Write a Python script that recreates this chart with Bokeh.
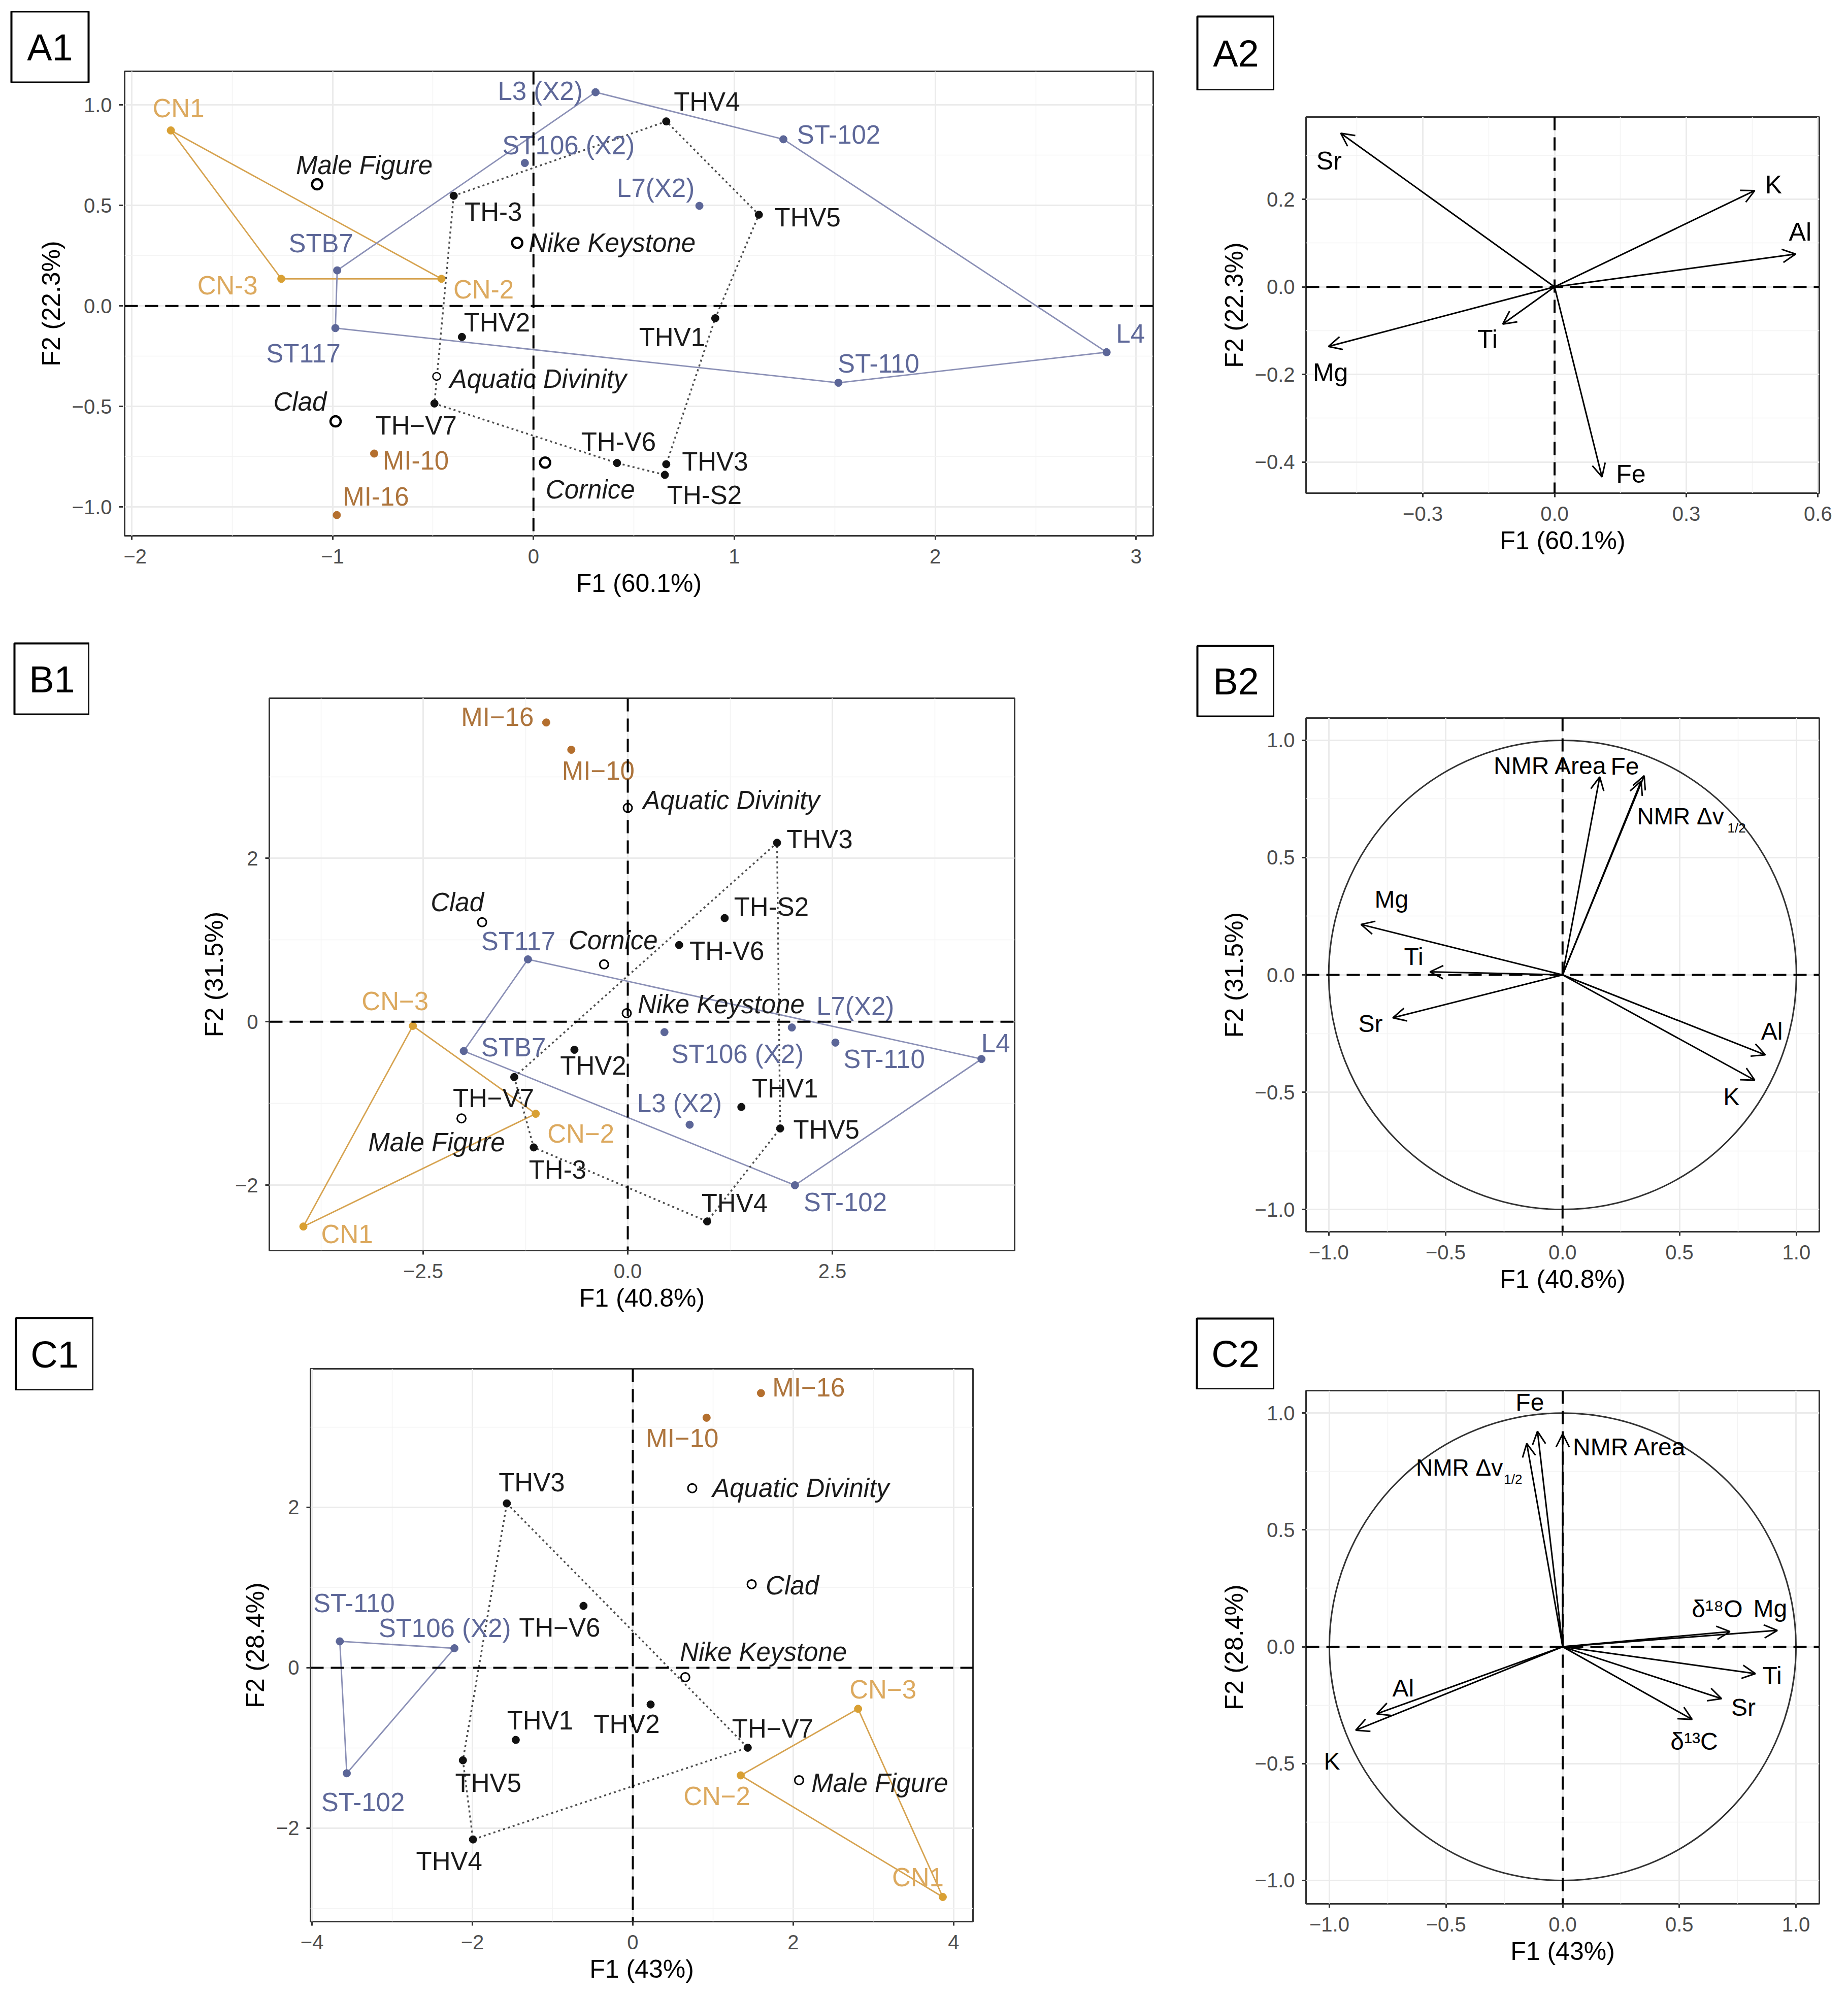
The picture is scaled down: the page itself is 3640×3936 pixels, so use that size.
from bokeh.plotting import figure
from bokeh.models import (ColumnDataSource, Span, FixedTicker, Arrow, OpenHead,
                          Range1d, Spacer)
from bokeh.layouts import row, column
from bokeh.core.properties import value
from bokeh.embed import file_html
from bokeh.resources import INLINE

FONT = "Liberation Sans"
M = "\u2212"

# ------------------------------------------------------------------ data
# Panel A1 (scores)
a1_names = ["CN1", "CN-3", "CN-2", "MI-10", "MI-16",
            "STB7", "ST117", "L3 (X2)", "ST106 (X2)", "L7(X2)", "ST-102", "L4", "ST-110",
            "TH-3", "THV4", "THV5", "THV1", "THV2", "TH" + M + "V7", "TH-V6", "THV3", "TH-S2",
            "Male Figure", "Nike Keystone", "Aquatic Divinity", "Clad", "Cornice"]
a1_x = [-1.805, -1.255, -0.458, -0.793, -0.979,
        -0.977, -0.986, 0.309, -0.043, 0.826, 1.244, 2.853, 1.518,
        -0.397, 0.661, 1.122, 0.905, -0.356, -0.493, 0.416, 0.661, 0.654,
        -1.077, -0.081, -0.482, -0.985, 0.058]
a1_y = [0.873, 0.135, 0.135, -0.734, -1.040,
        0.177, -0.110, 1.063, 0.711, 0.498, 0.829, -0.230, -0.382,
        0.548, 0.918, 0.454, -0.061, -0.154, -0.485, -0.781, -0.787, -0.840,
        0.605, 0.314, -0.350, -0.574, -0.779]
a1_group = ["CN"] * 3 + ["MI"] * 2 + ["ST"] * 8 + ["TH"] * 9 + ["ART"] * 5
a1_hulls = {"CN": ["CN1", "CN-3", "CN-2", "CN1"],
            "ST": ["STB7", "L3 (X2)", "ST-102", "L4", "ST-110", "ST117", "STB7"],
            "TH": ["TH-3", "THV4", "THV5", "THV1", "THV3", "TH-S2", "TH-V6", "TH" + M + "V7", "TH-3"]}

# Panel A2 (loadings)
a2_vars = ["Sr", "K", "Al", "Ti", "Mg", "Fe"]
a2_x = [-0.487, 0.456, 0.549, -0.118, -0.515, 0.108]
a2_y = [0.351, 0.220, 0.075, -0.085, -0.136, -0.434]

# Panel B1 (scores)
b1_names = ["CN1", "CN" + M + "3", "CN" + M + "2", "MI" + M + "16", "MI" + M + "10",
            "STB7", "ST117", "L3 (X2)", "ST106 (X2)", "L7(X2)", "ST-102", "L4", "ST-110",
            "TH-3", "THV4", "THV5", "THV1", "THV2", "TH" + M + "V7", "TH-V6", "THV3", "TH-S2",
            "Male Figure", "Nike Keystone", "Aquatic Divinity", "Clad", "Cornice"]
b1_x = [-3.964, -2.626, -1.125, -0.997, -0.690,
        -2.004, -1.220, 0.756, 0.448, 2.005, 2.043, 4.322, 2.537,
        -1.149, 0.970, 1.862, 1.388, -0.652, -1.387, 0.628, 1.824, 1.184,
        -2.032, -0.013, 0.000, -1.780, -0.290]
b1_y = [-2.506, -0.050, -1.126, 3.663, 3.329,
        -0.358, 0.764, -1.260, -0.127, -0.070, -2.001, -0.456, -0.255,
        -1.538, -2.444, -1.306, -1.043, -0.343, -0.677, 0.939, 2.191, 1.269,
        -1.183, 0.105, 2.618, 1.218, 0.702]
b1_group = ["CN"] * 3 + ["MI"] * 2 + ["ST"] * 8 + ["TH"] * 9 + ["ART"] * 5
b1_hulls = {"CN": ["CN" + M + "3", "CN" + M + "2", "CN1", "CN" + M + "3"],
            "ST": ["ST117", "L4", "ST-102", "STB7", "ST117"],
            "TH": ["TH" + M + "V7", "THV3", "THV5", "THV4", "TH-3", "TH" + M + "V7"]}

# Panel B2 (loadings)
b2_vars = ["NMR Area", "Fe", "NMR \u0394v", "Mg", "Ti", "Sr", "Al", "K"]
b2_x = [0.159, 0.349, 0.336, -0.862, -0.567, -0.726, 0.867, 0.822]
b2_y = [0.844, 0.849, 0.826, 0.215, 0.013, -0.183, -0.341, -0.449]

# Panel C1 (scores)
c1_names = ["CN1", "CN" + M + "3", "CN" + M + "2", "MI" + M + "16", "MI" + M + "10",
            "ST-110", "ST106 (X2)", "ST-102",
            "THV3", "TH" + M + "V6", "THV1", "THV5", "THV4", "THV2", "TH" + M + "V7",
            "Aquatic Divinity", "Clad", "Nike Keystone", "Male Figure"]
c1_x = [3.865, 2.809, 1.346, 1.598, 0.920,
        -3.654, -2.225, -3.567,
        -1.571, -0.615, -1.460, -2.119, -1.993, 0.222, 1.433,
        0.741, 1.482, 0.654, 2.073]
c1_y = [-2.858, -0.512, -1.342, 3.424, 3.117,
        0.329, 0.243, -1.316,
        2.049, 0.771, -0.900, -1.154, -2.141, -0.458, -0.997,
        2.238, 1.041, -0.118, -1.402]
c1_group = ["CN"] * 3 + ["MI"] * 2 + ["ST"] * 3 + ["TH"] * 7 + ["ART"] * 4
c1_hulls = {"CN": ["CN" + M + "3", "CN1", "CN" + M + "2", "CN" + M + "3"],
            "ST": ["ST-110", "ST106 (X2)", "ST-102", "ST-110"],
            "TH": ["THV3", "TH" + M + "V7", "THV4", "THV5", "THV3"]}

# Panel C2 (loadings)
c2_vars = ["Fe", "NMR \u0394v", "NMR Area", "\u03b4\u00b9\u2078O", "Mg", "Ti", "Sr",
           "\u03b4\u00b9\u00b3C", "Al", "K"]
c2_x = [-0.108, -0.154, 0.000, 0.717, 0.920, 0.826, 0.681, 0.555, -0.797, -0.887]
c2_y = [0.922, 0.870, 0.911, 0.065, 0.070, -0.115, -0.222, -0.311, -0.287, -0.357]

# tick values / labels
a1_xticks = [-2, -1, 0, 1, 2, 3]
a1_xlabels = [M + "2", M + "1", "0", "1", "2", "3"]
a1_yticks = [-1.0, -0.5, 0.0, 0.5, 1.0]
a1_ylabels = [M + "1.0", M + "0.5", "0.0", "0.5", "1.0"]
a2_xticks = [-0.3, 0.0, 0.3, 0.6]
a2_xlabels = [M + "0.3", "0.0", "0.3", "0.6"]
a2_yticks = [-0.4, -0.2, 0.0, 0.2]
a2_ylabels = [M + "0.4", M + "0.2", "0.0", "0.2"]
b1_xticks = [-2.5, 0.0, 2.5]
b1_xlabels = [M + "2.5", "0.0", "2.5"]
b1_yticks = [-2, 0, 2]
b1_ylabels = [M + "2", "0", "2"]
circ_ticks = [-1.0, -0.5, 0.0, 0.5, 1.0]
circ_labels = [M + "1.0", M + "0.5", "0.0", "0.5", "1.0"]
c1_xticks = [-4, -2, 0, 2, 4]
c1_xlabels = [M + "4", M + "2", "0", "2", "4"]
c1_yticks = [-2, 0, 2]
c1_ylabels = [M + "2", "0", "2"]

# ------------------------------------------------------------------ styles
PT = {"CN": "#D9A033", "MI": "#B46F2E", "ST": "#5C6698", "TH": "#111111"}
LAB = {"CN": "#DCA95E", "MI": "#AD743C", "ST": "#5E6899", "TH": "#1A1A1A", "ART": "#1A1A1A"}
HULL = {"CN": "#D6A350", "ST": "#8B90B6", "TH": "#4D4D4D"}

# figure sizes (w, h) and borders (left, right, top, bottom)
MAIN = {
    "A1": ((2079, 1260), (2, 51, 140, 205)),
    "A2": ((1302, 1084), (242, 49, 52, 291)),
    "B1": ((2154, 1332), (354, 332, 115, 129)),
    "B2": ((1302, 1182), (242, 49, 2, 168)),
    "C1": ((2145, 1328), (427, 413, 104, 135)),
    "C2": ((1302, 1187), (242, 49, 2, 174)),
}
RANGES = {
    "A1": ((-2.035, 3.085), (-1.143, 1.167)),
    "A2": ((-0.566, 0.603), (-0.471, 0.388)),
    "B1": ((-4.38, 4.727), (-2.80, 3.96)),
    "B2": ((-1.097, 1.098), (-1.095, 1.095)),
    "C1": ((-4.02, 4.242), (-3.165, 3.727)),
    "C2": ((-1.1, 1.1), (-1.1, 1.096)),
}
# separate y-axis strip for A1 (sits under the A1 tag box)
A1_YAXIS = ((243, 1097), (242, 0, 228), (-1.085, 1.109))
# panel tag boxes: figure (w, h), borders (left, top), box size (w, h)
BOX = {
    "A1": ((243, 141), (22, 0), (152, 141)),
    "A2": ((180, 178), (28, 32), (152, 146)),
    "B1": ((176, 144), (28, 3), (148, 141)),
    "B2": ((180, 150), (28, 10), (152, 140)),
    "C1": ((184, 145), (31, 2), (152, 143)),
    "C2": ((180, 143), (27, 3), (152, 140)),
}

# label offsets (screen px) from point to label centre
A1_OFF = {"CN1": (15, -43), "CN-3": (-106, 13), "CN-2": (83, 21), "MI-10": (82, 14),
          "MI-16": (77, -36), "STB7": (-32, -53), "ST117": (-63, 50), "L3 (X2)": (-109, -2),
          "ST106 (X2)": (86, -35), "L7(X2)": (-86, -35), "ST-102": (109, -9), "L4": (47, -36),
          "ST-110": (79, -38), "TH-3": (78, 32), "THV4": (80, -39), "THV5": (96, 6),
          "THV1": (-85, 38), "THV2": (69, -28), "TH" + M + "V7": (-36, 44), "TH-V6": (3, -42),
          "THV3": (96, -5), "TH-S2": (78, 40), "Male Figure": (93, -38),
          "Nike Keystone": (187, 0), "Aquatic Divinity": (200, 5), "Clad": (-70, -39),
          "Cornice": (89, 53)}
B1_OFF = {"MI" + M + "16": (-96, -11), "MI" + M + "10": (53, 41), "Clad": (-49, -39),
          "ST117": (-19, -35), "Cornice": (18, -47), "CN" + M + "3": (-35, -48),
          "STB7": (98, -7), "THV2": (37, 31), "TH" + M + "V7": (-41, 42),
          "CN" + M + "2": (89, 39), "Male Figure": (-49, 47), "TH-3": (47, 44),
          "CN1": (86, 15), "Aquatic Divinity": (204, -15), "THV3": (84, -7),
          "TH-S2": (92, -22), "TH-V6": (94, 12), "Nike Keystone": (186, -17),
          "L7(X2)": (125, -42), "ST106 (X2)": (144, 43), "ST-110": (96, 33),
          "L4": (28, -31), "THV1": (86, -36), "L3 (X2)": (-20, -42), "THV5": (91, 2),
          "ST-102": (99, 34), "THV4": (54, -36)}
C1_OFF = {"CN1": (-49, -38), "CN" + M + "3": (49, -38), "CN" + M + "2": (-47, 41),
          "MI" + M + "16": (94, -11), "MI" + M + "10": (-48, 41), "ST-110": (28, -75),
          "ST106 (X2)": (-19, -40), "ST-102": (32, 57), "THV3": (49, -41),
          "TH" + M + "V6": (-47, 43), "THV1": (48, -38), "THV5": (50, 45),
          "THV4": (-47, 43), "THV2": (-47, 39), "TH" + M + "V7": (49, -37),
          "Aquatic Divinity": (214, 0), "Clad": (80, 3), "Nike Keystone": (154, -50),
          "Male Figure": (159, 6)}
A2_OFF = {"Sr": (-23, 55), "K": (37, -11), "Al": (9, -44), "Ti": (-30, 29),
          "Mg": (4, 51), "Fe": (57, -6)}
B2_OFF = {"NMR Area": (-97, -22), "Fe": (-38, -19), "Mg": (60, -50), "Ti": (-32, -30),
          "Sr": (-44, 11), "Al": (13, -47), "K": (-46, 33)}
C2_OFF = {"Fe": (-15, -57), "NMR Area": (132, 26), "\u03b4\u00b9\u2078O": (-25, -45),
          "Mg": (-14, -43), "Ti": (33, 3), "Sr": (43, 17), "\u03b4\u00b9\u00b3C": (4, 43),
          "Al": (52, -51), "K": (-47, 61)}


def wrap(p):
    return column(p, spacing=0)


def minor_of(t):
    m = [(a + c) / 2 for a, c in zip(t[:-1], t[1:])]
    return [t[0] - (t[1] - t[0]) / 2] + m + [t[-1] + (t[1] - t[0]) / 2]


def style_axis(ax):
    ax.axis_line_color = None
    ax.major_tick_line_color = "#333333"
    ax.major_tick_line_width = 3
    ax.major_tick_out = 8
    ax.major_tick_in = 0
    ax.minor_tick_line_color = None
    ax.major_label_text_font = FONT
    ax.major_label_text_font_size = "40px"
    ax.major_label_text_color = "#4D4D4D"
    ax.axis_label_text_font = FONT
    ax.axis_label_text_font_size = "50px"
    ax.axis_label_text_font_style = "normal"
    ax.axis_label_text_color = "black"


def style_yaxis(p, yt, yl, ylab):
    p.yaxis.ticker = FixedTicker(ticks=yt, minor_ticks=minor_of(yt))
    p.yaxis.major_label_overrides = {v: s for v, s in zip(yt, yl)}
    style_axis(p.yaxis)
    p.yaxis.axis_label = ylab
    p.yaxis.major_label_standoff = 14
    p.yaxis.axis_label_standoff = 10
    p.yaxis.major_label_orientation = "horizontal"


def box_fig(key):
    (w, h), (l, t), (bw, bh) = BOX[key]
    p = figure(width=w, height=h, x_range=Range1d(0, 1), y_range=Range1d(0, 1),
               x_axis_type=None, y_axis_type=None, output_backend="svg",
               toolbar_location=None, tools="",
               min_border_left=l, min_border_right=w - l - bw,
               min_border_top=t, min_border_bottom=h - t - bh)
    p.background_fill_color = "white"
    p.border_fill_color = "white"
    p.outline_line_color = "black"
    p.outline_line_width = 4
    p.text(x=[0.5], y=[0.5], text=[key], text_align="center", text_baseline="middle",
           text_font=value(FONT), text_font_size="74px", text_color="black")
    return p


def yaxis_strip(yt, yl, ylab):
    (w, h), (l, t, b), yr = A1_YAXIS
    p = figure(width=w, height=h, x_range=Range1d(0, 1), y_range=Range1d(*yr),
               x_axis_type=None, output_backend="svg", toolbar_location=None, tools="",
               min_border_left=l, min_border_right=w - l - 1,
               min_border_top=t, min_border_bottom=b)
    p.background_fill_color = "white"
    p.border_fill_color = "white"
    p.outline_line_color = None
    p.ygrid.visible = False
    style_yaxis(p, yt, yl, ylab)
    return p


def make_fig(key, xlab, ylab, xt, xl, yt, yl):
    (fw, fh), (l, r, t, b) = MAIN[key]
    xr, yr = RANGES[key]
    p = figure(width=fw, height=fh, x_range=Range1d(*xr), y_range=Range1d(*yr),
               output_backend="svg", toolbar_location=None, tools="",
               min_border_left=l, min_border_right=r,
               min_border_top=t, min_border_bottom=b)
    p.background_fill_color = "white"
    p.border_fill_color = "white"
    p.outline_line_color = "#333333"
    p.outline_line_width = 3
    p.xaxis.ticker = FixedTicker(ticks=xt, minor_ticks=minor_of(xt))
    p.xaxis.major_label_overrides = {v: s for v, s in zip(xt, xl)}
    style_axis(p.xaxis)
    p.xaxis.axis_label = xlab
    p.xaxis.major_label_standoff = 18
    p.xaxis.axis_label_standoff = 8
    style_yaxis(p, yt, yl, ylab)
    for g in (p.xgrid, p.ygrid):
        g.grid_line_color = "#EBEBEB"
        g.grid_line_width = 3
        g.minor_grid_line_color = "#F3F3F3"
        g.minor_grid_line_width = 1.5
    for dim in ("width", "height"):
        p.add_layout(Span(location=0, dimension=dim, line_color="black",
                          line_dash="26 14", line_width=4))
    return p


def scatter_panel(key, names, xs, ys, groups, hulls, offs, art_style, xlab, ylab,
                  xt, xl, yt, yl):
    p = make_fig(key, xlab, ylab, xt, xl, yt, yl)
    pos = {n: (x, y) for n, x, y in zip(names, xs, ys)}
    for g, order in hulls.items():
        hx = [pos[n][0] for n in order]
        hy = [pos[n][1] for n in order]
        if g == "TH":
            p.line(hx, hy, line_color=HULL[g], line_width=3.4, line_dash="4 6")
        else:
            p.line(hx, hy, line_color=HULL[g], line_width=2.8)
    fi = [i for i, g in enumerate(groups) if g != "ART"]
    ai = [i for i, g in enumerate(groups) if g == "ART"]
    src = ColumnDataSource(dict(x=[xs[i] for i in fi], y=[ys[i] for i in fi],
                                c=[PT[groups[i]] for i in fi]))
    p.scatter("x", "y", source=src, size=15, fill_color="c", line_color="c")
    asrc = ColumnDataSource(dict(x=[xs[i] for i in ai], y=[ys[i] for i in ai],
                                 s=[art_style(names[i])[0] for i in ai],
                                 w=[art_style(names[i])[1] for i in ai]))
    p.scatter("x", "y", source=asrc, size="s", line_width="w", fill_color="white",
              line_color="black")
    tsrc = ColumnDataSource(dict(x=[xs[i] for i in fi], y=[ys[i] for i in fi],
                                 t=[names[i] for i in fi],
                                 dx=[offs[names[i]][0] for i in fi],
                                 dy=[offs[names[i]][1] for i in fi],
                                 c=[LAB[groups[i]] for i in fi]))
    p.text("x", "y", text="t", x_offset="dx", y_offset="dy", source=tsrc,
           text_color="c", text_align="center", text_baseline="middle",
           text_font=value(FONT), text_font_size="51px")
    tsrc2 = ColumnDataSource(dict(x=[xs[i] for i in ai], y=[ys[i] for i in ai],
                                  t=[names[i] for i in ai],
                                  dx=[offs[names[i]][0] for i in ai],
                                  dy=[offs[names[i]][1] for i in ai]))
    p.text("x", "y", text="t", x_offset="dx", y_offset="dy", source=tsrc2,
           text_color="#1A1A1A", text_align="center", text_baseline="middle",
           text_font=value(FONT), text_font_size="51px", text_font_style="italic")
    return p


def loading_panel(key, names, xs, ys, offs, xlab, ylab, xt, xl, yt, yl, circle,
                  dv=None, fs="48px"):
    p = make_fig(key, xlab, ylab, xt, xl, yt, yl)
    if circle:
        p.ellipse(x=[0], y=[0], width=2, height=2, fill_color=None,
                  line_color="#333333", line_width=3)
    src = ColumnDataSource(dict(x0=[0] * len(xs), y0=[0] * len(xs), x1=xs, y1=ys))
    p.add_layout(Arrow(end=OpenHead(size=26, line_width=3, line_color="black"),
                       x_start="x0", y_start="y0", x_end="x1", y_end="y1",
                       source=src, line_width=3, line_color="black"))
    sel = [i for i, n in enumerate(names) if n in offs]
    tsrc = ColumnDataSource(dict(x=[xs[i] for i in sel], y=[ys[i] for i in sel],
                                 t=[names[i] for i in sel],
                                 dx=[offs[names[i]][0] for i in sel],
                                 dy=[offs[names[i]][1] for i in sel]))
    p.text("x", "y", text="t", x_offset="dx", y_offset="dy", source=tsrc,
           text_color="black", text_align="center", text_baseline="middle",
           text_font=value(FONT), text_font_size=fs)
    if dv is not None:
        i = names.index("NMR \u0394v")
        (mdx, mdy, align), (sdx, sdy) = dv
        p.text(x=[xs[i]], y=[ys[i]], text=["NMR \u0394v"], x_offset=mdx, y_offset=mdy,
               text_color="black", text_align=align, text_baseline="middle",
               text_font=value(FONT), text_font_size="46px")
        p.text(x=[xs[i]], y=[ys[i]], text=["1/2"], x_offset=sdx, y_offset=sdy,
               text_color="black", text_align="left", text_baseline="middle",
               text_font=value(FONT), text_font_size="26px")
    return p


def a1_art(n):
    return (15, 2.5) if n == "Aquatic Divinity" else (20, 4.5)


def thin_art(n):
    return (17, 3)


pA1 = scatter_panel("A1", a1_names, a1_x, a1_y, a1_group, a1_hulls, A1_OFF, a1_art,
                    "F1 (60.1%)", "F2 (22.3%)", a1_xticks, a1_xlabels, a1_yticks, a1_ylabels)
pA1.yaxis.visible = False
pA1_y = yaxis_strip(a1_yticks, a1_ylabels, "F2 (22.3%)")
pA2 = loading_panel("A2", a2_vars, a2_x, a2_y, A2_OFF, "F1 (60.1%)", "F2 (22.3%)",
                    a2_xticks, a2_xlabels, a2_yticks, a2_ylabels, circle=False, fs="50px")
pB1 = scatter_panel("B1", b1_names, b1_x, b1_y, b1_group, b1_hulls, B1_OFF, thin_art,
                    "F1 (40.8%)", "F2 (31.5%)", b1_xticks, b1_xlabels, b1_yticks, b1_ylabels)
pB2 = loading_panel("B2", b2_vars, b2_x, b2_y, B2_OFF, "F1 (40.8%)", "F2 (31.5%)",
                    circ_ticks, circ_labels, circ_ticks, circ_labels, circle=True,
                    dv=((-8, 69, "left"), (170, 92)), fs="48px")
pC1 = scatter_panel("C1", c1_names, c1_x, c1_y, c1_group, c1_hulls, C1_OFF, thin_art,
                    "F1 (43%)", "F2 (28.4%)", c1_xticks, c1_xlabels, c1_yticks, c1_ylabels)
pC2 = loading_panel("C2", c2_vars, c2_x, c2_y, C2_OFF, "F1 (43%)", "F2 (28.4%)",
                    circ_ticks, circ_labels, circ_ticks, circ_labels, circle=True,
                    dv=((-47, 47, "right"), (-45, 70)), fs="48px")

left_col = column(
    row(column(Spacer(width=243, height=22), wrap(box_fig("A1")), wrap(pA1_y), spacing=0),
        wrap(pA1), spacing=0),
    row(column(Spacer(width=176, height=4), wrap(box_fig("B1")), spacing=0),
        wrap(pB1), spacing=0),
    row(column(Spacer(width=184, height=2), wrap(box_fig("C1")), spacing=0),
        wrap(pC1), spacing=0),
    spacing=0)
right_col = column(
    wrap(box_fig("A2")),
    wrap(pA2),
    wrap(box_fig("B2")),
    wrap(pB2),
    wrap(box_fig("C2")),
    wrap(pC2),
    spacing=0)
layout = row(left_col, right_col, spacing=0)

open("out.html", "w").write(file_html(layout, INLINE))
